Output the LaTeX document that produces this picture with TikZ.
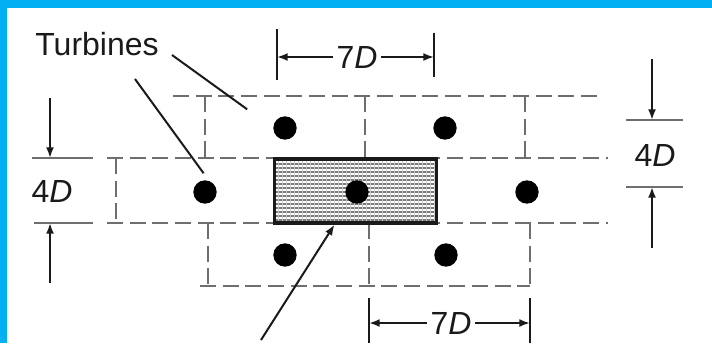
\documentclass[tikz,border=0pt]{standalone}
\usepackage{fontspec}
\setmainfont{Liberation Sans}
\usetikzlibrary{arrows.meta}
\definecolor{FrameBlue}{HTML}{00B0F0}
\definecolor{WakeGray}{HTML}{6E6E6E}
\definecolor{AreaGray}{HTML}{7A7A7A}
\definecolor{InkDark}{HTML}{1A1A1A}

\begin{document}
\begin{tikzpicture}[x=0.75pt,y=-0.75pt,
  wake/.style={draw=WakeGray, line width=2.2pt, dash pattern=on 12pt off 5pt},
  turbine/.style={circle, fill=black, inner sep=0pt, minimum size=17.5pt},
  extline/.style={draw=WakeGray, line width=2pt},
  dimbar/.style={draw=InkDark, line width=1.8pt},
  dimarrow/.style={InkDark, line width=1.5pt, -{Latex[length=8pt,width=6pt]}},
  leader/.style={InkDark, line width=1.5pt},
  dimlabel/.style={inner sep=2.5pt, text=InkDark, font=\fontsize{24}{28}\selectfont}]
  \useasboundingbox (0,0) rectangle (712,343);
  % cropped frame
  \fill[FrameBlue] (0,0) rectangle (712,8);
  \fill[FrameBlue] (0,0) rectangle (7,343);

  % wake boxes
  \draw[wake] (173,96) -- (603,96);
  \draw[wake] (107,158) -- (608,158);
  \draw[wake] (107,223) -- (608,223);
  \draw[wake] (200,286) -- (530,286);
  \draw[wake] (116,158) -- (116,223);
  \foreach \xx in {205,365,525} \draw[wake] (\xx,96) -- (\xx,158);
  \foreach \xx in {208,369,530} \draw[wake] (\xx,223) -- (\xx,286);

  % shaded area
  \fill[AreaGray] (274,158) rectangle (437,224);
  \foreach \yy in {162,166,...,222} \draw[white, line width=0.8pt] (275,\yy) -- (436,\yy);
  \foreach \xx in {278,282,...,436} \draw[white!60!AreaGray, line width=0.7pt] (\xx,159) -- (\xx,223);
  \node[draw=InkDark, line width=2.4pt, minimum width=122pt, minimum height=48pt, inner sep=0pt] (farm) at (355.5,191) {};

  % turbines
  \node[turbine] (t1) at (285,128) {};
  \node[turbine] (t2) at (445,128) {};
  \node[turbine] (t3) at (205,192) {};
  \node[turbine] (t4) at (357,192) {};
  \node[turbine] (t5) at (527,192) {};
  \node[turbine] (t6) at (285,255) {};
  \node[turbine] (t7) at (446,255) {};

  % labels and leaders
  \node[dimlabel] (lbl) at (97,44) {Turbines};
  \coordinate (lead1) at (172,55);
  \coordinate (lead2) at (135,79);
  \draw[leader, shorten >=24pt] (lead1) -- (t1.180);
  \draw[leader, shorten >=7pt] (lead2) -- (t3.70);
  \coordinate (areatail) at (261,340);
  \draw[dimarrow] (areatail) -- (farm.-122);

  % 7D top
  \coordinate (ta) at (277,57);
  \coordinate (tb) at (434,57);
  \draw[dimbar] (277,29) -- (277,80);
  \draw[dimbar] (434,33) -- (434,77);
  \node[dimlabel] (topD) at (357,57) {7\textit{D}};
  \draw[dimarrow] (topD) -- (ta);
  \draw[dimarrow] (topD) -- (tb);

  % 7D bottom
  \coordinate (ba) at (369,323);
  \coordinate (bb) at (530,323);
  \draw[dimbar] (369,298) -- (369,343);
  \draw[dimbar] (530,298) -- (530,343);
  \node[dimlabel] (botD) at (451,323) {7\textit{D}};
  \draw[dimarrow] (botD) -- (ba);
  \draw[dimarrow] (botD) -- (bb);

  % 4D left
  \draw[extline] (32,158) -- (93,158);
  \draw[extline] (34,223) -- (93,223);
  \node[dimlabel] (leftD) at (52,191) {4\textit{D}};
  \coordinate (la) at (50,98);
  \coordinate (lb) at (50,158);
  \coordinate (lc) at (50,283);
  \coordinate (ld) at (50,223);
  \draw[dimarrow] (la) -- (lb);
  \draw[dimarrow] (lc) -- (ld);

  % 4D right
  \draw[extline] (626,120) -- (683,120);
  \draw[extline] (626,187) -- (683,187);
  \node[dimlabel] (rightD) at (655,155) {4\textit{D}};
  \coordinate (ra) at (652,59);
  \coordinate (rb) at (652,120);
  \coordinate (rc) at (652,248);
  \coordinate (rd) at (652,187);
  \draw[dimarrow] (ra) -- (rb);
  \draw[dimarrow] (rc) -- (rd);
\end{tikzpicture}
\end{document}
